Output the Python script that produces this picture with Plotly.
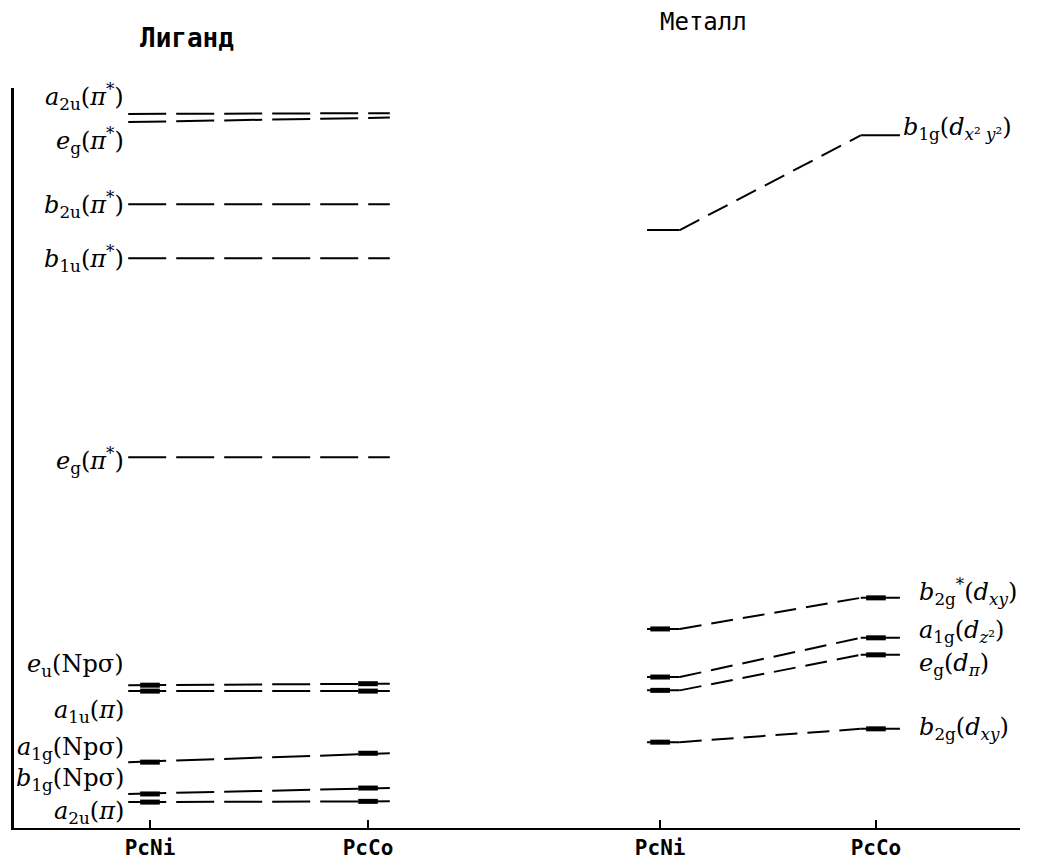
import plotly.graph_objects as go

# ---------------- data ----------------
categories = ["PcNi", "PcCo", "PcNi", "PcCo"]
x_pos = [0.0, 1.0, 2.34, 3.33]

lig_labels = [
    "<i>a</i><sub>2u</sub>(<i>π</i><sup>*</sup>)",
    "<i>e</i><sub>g</sub>(<i>π</i><sup>*</sup>)",
    "<i>b</i><sub>2u</sub>(<i>π</i><sup>*</sup>)",
    "<i>b</i><sub>1u</sub>(<i>π</i><sup>*</sup>)",
    "<i>e</i><sub>g</sub>(<i>π</i><sup>*</sup>)",
    "<i>e</i><sub>u</sub>(Npσ)",
    "<i>a</i><sub>1u</sub>(<i>π</i>)",
    "<i>a</i><sub>1g</sub>(Npσ)",
    "<i>b</i><sub>1g</sub>(Npσ)",
    "<i>a</i><sub>2u</sub>(<i>π</i>)",
]
lig_ni = [9.65, 9.54, 8.43, 7.70, 5.01, 1.93, 1.85, 0.89, 0.46, 0.35]
lig_co = [9.66, 9.60, 8.43, 7.70, 5.01, 1.95, 1.85, 1.01, 0.54, 0.36]
lig_occ = [False, False, False, False, False, True, True, True, True, True]

met_labels = [
    "<i>b</i><sub>1g</sub>(<i>d</i><sub><i>x</i>² <i>y</i>²</sub>)",
    "<i>b</i><sub>2g</sub><sup>*</sup>(<i>d</i><sub><i>xy</i></sub>)",
    "<i>a</i><sub>1g</sub>(<i>d</i><sub><i>z</i>²</sub>)",
    "<i>e</i><sub>g</sub>(<i>d</i><sub><i>π</i></sub>)",
    "<i>b</i><sub>2g</sub>(<i>d</i><sub><i>xy</i></sub>)",
]
met_ni = [8.08, 2.69, 2.04, 1.86, 1.16]
met_co = [9.36, 3.11, 2.57, 2.34, 1.34]
met_occ = [False, True, True, True, True]

# ---------------- layout / style ----------------
lig_shift = [17, -18, 0, 0, -3, 20, -20, 14, 14, -10]
met_shift = [7, 6, 6, -10, 0]
met_xoff = [0.115, 0.19, 0.19, 0.19, 0.19]
EXT = 0.1
LABEL_FONT = dict(family="DejaVu Serif", size=24, color="black")

fig = go.Figure()

# ligand levels: dashed straight lines
for i in range(len(lig_labels)):
    fig.add_trace(go.Scatter(
        x=[x_pos[0] - EXT, x_pos[1] + EXT], y=[lig_ni[i], lig_co[i]],
        mode="lines", line=dict(color="black", width=2, dash="38px,10px"),
        hoverinfo="skip", showlegend=False))
    if lig_occ[i]:
        for k in (0, 1):
            yv = lig_ni[i] if k == 0 else lig_co[i]
            fig.add_trace(go.Scatter(
                x=[x_pos[k] - 0.045, x_pos[k] + 0.045], y=[yv, yv],
                mode="lines", line=dict(color="black", width=5),
                hoverinfo="skip", showlegend=False))
    fig.add_annotation(x=x_pos[0] - 0.11, y=lig_ni[i], text=lig_labels[i],
                       xanchor="right", yanchor="middle", showarrow=False,
                       yshift=lig_shift[i], font=LABEL_FONT)

# metal levels: solid stubs joined by dashed correlation lines
for i in range(len(met_labels)):
    a, b = x_pos[2], x_pos[3]
    fig.add_trace(go.Scatter(
        x=[a - 0.06, a + 0.09], y=[met_ni[i], met_ni[i]],
        mode="lines", line=dict(color="black", width=2),
        hoverinfo="skip", showlegend=False))
    fig.add_trace(go.Scatter(
        x=[a + 0.09, b - 0.07], y=[met_ni[i], met_co[i]],
        mode="lines", line=dict(color="black", width=2, dash="22px,10px"),
        hoverinfo="skip", showlegend=False))
    fig.add_trace(go.Scatter(
        x=[b - 0.07, b + 0.11], y=[met_co[i], met_co[i]],
        mode="lines", line=dict(color="black", width=2),
        hoverinfo="skip", showlegend=False))
    if met_occ[i]:
        for xv, yv in ((a, met_ni[i]), (b, met_co[i])):
            fig.add_trace(go.Scatter(
                x=[xv - 0.045, xv + 0.045], y=[yv, yv],
                mode="lines", line=dict(color="black", width=5),
                hoverinfo="skip", showlegend=False))
    fig.add_annotation(x=b + met_xoff[i], y=met_co[i], text=met_labels[i],
                       xanchor="left", yanchor="middle", showarrow=False,
                       yshift=met_shift[i], font=LABEL_FONT)

# section titles
fig.add_annotation(x=0.17, y=1.0, xref="x", yref="paper", yshift=50,
                   yanchor="middle", text="Лиганд", showarrow=False,
                   font=dict(family="DejaVu Sans Mono", size=26, color="black",
                             weight="bold"))
fig.add_annotation(x=2.54, y=1.0, xref="x", yref="paper", yshift=66,
                   yanchor="middle", text="Металл", showarrow=False,
                   font=dict(family="DejaVu Sans Mono", size=24, color="black"))

fig.update_layout(
    width=1039, height=859,
    margin=dict(l=6, r=27, t=80, b=39),
    plot_bgcolor="white", paper_bgcolor="white",
    xaxis=dict(range=[-0.6239, 3.9908], tickvals=x_pos, ticktext=categories,
               showline=True, linecolor="black", linewidth=2,
               ticks="inside", ticklen=8, tickwidth=1.5, tickcolor="black",
               showgrid=False, zeroline=False,
               tickfont=dict(family="DejaVu Sans Mono", size=21, color="black",
                             weight="bold")),
    yaxis=dict(range=[0, 10], showline=True, linecolor="black", linewidth=3,
               showticklabels=False, ticks="", showgrid=False, zeroline=False),
)

fig.write_html("out.html")
